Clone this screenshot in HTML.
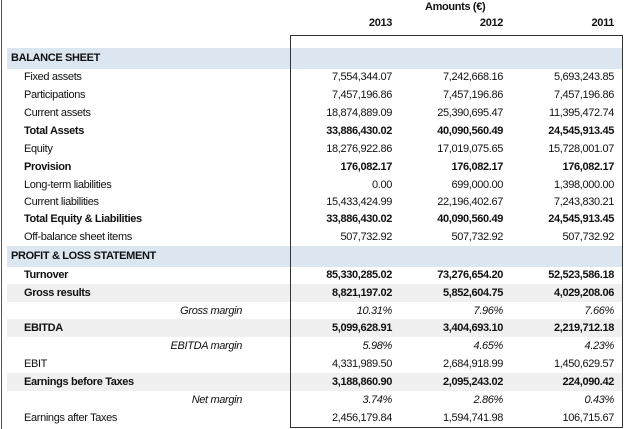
<!DOCTYPE html>
<html><head><meta charset="utf-8"><style>
html,body{margin:0;padding:0;background:#fff;}
body{width:624px;height:429px;position:relative;overflow:hidden;font-family:"Liberation Sans",sans-serif;font-size:11px;letter-spacing:-0.35px;color:#111;}
.r{position:absolute;left:7px;width:615px;height:18px;line-height:18px;}
.r span{position:absolute;top:0;white-space:nowrap;}
.l{left:17px;}
.h{left:4px;font-weight:bold;}
.m{right:380px;font-style:italic;}
.c1{right:230px;}.c2{right:119px;}.c3{right:8px;}
.b{font-weight:bold;}
.i span.c1,.i span.c2,.i span.c3{font-style:italic;}
.g{background:#f0f0f0;}
.s{background:#dce6f1;height:21px;line-height:21px;}
</style></head><body>
<div style="position:absolute;left:1px;top:0;width:1px;height:429px;background:#555"></div>
<div style="position:absolute;left:0;top:0;width:624px;height:30px;">
<span style="position:absolute;left:425px;top:0;font-weight:bold;line-height:14px">Amounts (€)</span>
<span style="position:absolute;right:232px;top:16px;font-weight:bold;line-height:14px">2013</span>
<span style="position:absolute;right:121px;top:16px;font-weight:bold;line-height:14px">2012</span>
<span style="position:absolute;right:10px;top:16px;font-weight:bold;line-height:14px">2011</span>
</div>

<div class="r s" style="top:48px"><span class="h">BALANCE SHEET</span></div>
<div class="r" style="top:68px"><span class="l">Fixed assets</span><span class="c1">7,554,344.07</span><span class="c2">7,242,668.16</span><span class="c3">5,693,243.85</span></div>
<div class="r" style="top:86px"><span class="l">Participations</span><span class="c1">7,457,196.86</span><span class="c2">7,457,196.86</span><span class="c3">7,457,196.86</span></div>
<div class="r" style="top:104px"><span class="l">Current assets</span><span class="c1">18,874,889.09</span><span class="c2">25,390,695.47</span><span class="c3">11,395,472.74</span></div>
<div class="r b" style="top:122px"><span class="l">Total Assets</span><span class="c1">33,886,430.02</span><span class="c2">40,090,560.49</span><span class="c3">24,545,913.45</span></div>
<div class="r" style="top:140px"><span class="l">Equity</span><span class="c1">18,276,922.86</span><span class="c2">17,019,075.65</span><span class="c3">15,728,001.07</span></div>
<div class="r b" style="top:158px"><span class="l">Provision</span><span class="c1">176,082.17</span><span class="c2">176,082.17</span><span class="c3">176,082.17</span></div>
<div class="r" style="top:176px"><span class="l">Long-term liabilities</span><span class="c1">0.00</span><span class="c2">699,000.00</span><span class="c3">1,398,000.00</span></div>
<div class="r" style="top:193px"><span class="l">Current liabilities</span><span class="c1">15,433,424.99</span><span class="c2">22,196,402.67</span><span class="c3">7,243,830.21</span></div>
<div class="r b" style="top:210px"><span class="l">Total Equity &amp; Liabilities</span><span class="c1">33,886,430.02</span><span class="c2">40,090,560.49</span><span class="c3">24,545,913.45</span></div>
<div class="r" style="top:228px"><span class="l">Off-balance sheet items</span><span class="c1">507,732.92</span><span class="c2">507,732.92</span><span class="c3">507,732.92</span></div>
<div class="r s" style="top:246px"><span class="h">PROFIT &amp; LOSS STATEMENT</span></div>
<div class="r b" style="top:266px"><span class="l">Turnover</span><span class="c1">85,330,285.02</span><span class="c2">73,276,654.20</span><span class="c3">52,523,586.18</span></div>
<div class="r b g" style="top:284px"><span class="l">Gross results</span><span class="c1">8,821,197.02</span><span class="c2">5,852,604.75</span><span class="c3">4,029,208.06</span></div>
<div class="r i" style="top:302px"><span class="m">Gross margin</span><span class="c1">10.31%</span><span class="c2">7.96%</span><span class="c3">7.66%</span></div>
<div class="r b g" style="top:319px"><span class="l">EBITDA</span><span class="c1">5,099,628.91</span><span class="c2">3,404,693.10</span><span class="c3">2,219,712.18</span></div>
<div class="r i" style="top:337px"><span class="m">EBITDA margin</span><span class="c1">5.98%</span><span class="c2">4.65%</span><span class="c3">4.23%</span></div>
<div class="r" style="top:355px"><span class="l">EBIT</span><span class="c1">4,331,989.50</span><span class="c2">2,684,918.99</span><span class="c3">1,450,629.57</span></div>
<div class="r b g" style="top:373px"><span class="l">Earnings before Taxes</span><span class="c1">3,188,860.90</span><span class="c2">2,095,243.02</span><span class="c3">224,090.42</span></div>
<div class="r i" style="top:391px"><span class="m">Net margin</span><span class="c1">3.74%</span><span class="c2">2.86%</span><span class="c3">0.43%</span></div>
<div class="r" style="top:409px"><span class="l">Earnings after Taxes</span><span class="c1">2,456,179.84</span><span class="c2">1,594,741.98</span><span class="c3">106,715.67</span></div>

<div style="position:absolute;left:290px;top:35px;width:331px;height:391px;border:1px solid #333;"></div>
</body></html>
